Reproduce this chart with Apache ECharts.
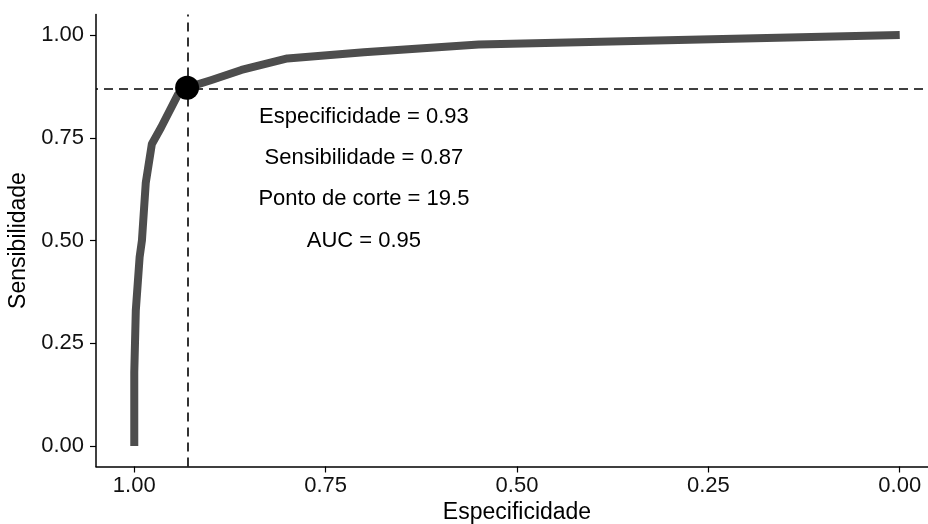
<!DOCTYPE html>
<html>
<head>
<meta charset="utf-8">
<script src="https://cdn.jsdelivr.net/npm/echarts@6/dist/echarts.min.js"></script>
<style>
  html, body { margin: 0; padding: 0; background: #fff; }
  #chart { width: 928px; height: 524px; }
</style>
</head>
<body>
<div id="chart"></div>
<script>
// curva ROC: especificidade (x, eixo invertido) e sensibilidade (y)
const especificidade = [1.000, 1.000, 0.998, 0.993, 0.990, 0.985, 0.977, 0.965, 0.943, 0.931, 0.900, 0.860, 0.800, 0.700, 0.550, 0.000];
const sensibilidade  = [0.000, 0.180, 0.330, 0.460, 0.500, 0.640, 0.735, 0.775, 0.855, 0.872, 0.890, 0.915, 0.943, 0.958, 0.977, 1.000];

// ponto de corte escolhido
const corteEsp = 0.931;
const corteSens = 0.872;

// textos anotados no gráfico
const notaX = [0.70, 0.70, 0.70, 0.70];
const notaY = [0.80, 0.70, 0.60, 0.50];
const notaTexto = ['Especificidade = 0.93', 'Sensibilidade = 0.87', 'Ponto de corte = 19.5', 'AUC = 0.95'];

const ticks = [0, 0.25, 0.5, 0.75, 1];

const fonte = '"Liberation Sans", Arial, sans-serif';
const chart = echarts.init(document.getElementById('chart'));

const curva = especificidade.map((e, i) => [e, sensibilidade[i]]);
const notas = notaX.map((x, i) => ({ value: [x, notaY[i]], texto: notaTexto[i] }));

const eixo = {
  type: 'value',
  min: -0.05,
  max: 1.05,
  splitLine: { show: false },
  axisLine: { show: true, onZero: false, lineStyle: { color: '#000', width: 1.5 } },
  axisTick: { show: true, customValues: ticks, length: 6, lineStyle: { color: '#000', width: 1.2 } },
  axisLabel: {
    customValues: ticks,
    color: '#111',
    fontSize: 22,
    fontFamily: fonte,
    formatter: v => v.toFixed(2)
  },
  nameLocation: 'middle',
  nameTextStyle: { color: '#000', fontSize: 23, fontFamily: fonte }
};

const option = {
  animation: false,
  backgroundColor: '#fff',
  grid: { left: 96, top: 14.5, width: 842, height: 452, outerBoundsMode: 'none', containLabel: false },
  xAxis: Object.assign({}, eixo, {
    inverse: true,
    name: 'Especificidade',
    nameGap: 33,
    axisLabel: Object.assign({}, eixo.axisLabel, { margin: 8 })
  }),
  yAxis: Object.assign({}, eixo, {
    name: 'Sensibilidade',
    nameGap: 61,
    axisLabel: Object.assign({}, eixo.axisLabel, { margin: 12 })
  }),
  series: [
    {
      type: 'line',
      data: curva,
      showSymbol: false,
      lineStyle: { color: '#4d4d4d', width: 8, cap: 'butt', join: 'round' },
      markLine: {
        silent: true,
        symbol: 'none',
        label: { show: false },
        lineStyle: { color: '#000', width: 1.6, type: [9, 6] },
        data: [{ xAxis: corteEsp }, { yAxis: corteSens }]
      },
      z: 2
    },
    {
      type: 'scatter',
      data: [[corteEsp, corteSens]],
      symbolSize: 24,
      itemStyle: { color: '#000', opacity: 1 },
      z: 3
    },
    {
      type: 'scatter',
      data: notas,
      symbolSize: 0,
      itemStyle: { opacity: 1 },
      label: {
        show: true,
        position: 'inside',
        color: '#000',
        fontSize: 22,
        fontFamily: fonte,
        formatter: p => p.data.texto
      },
      z: 4
    }
  ]
};

chart.setOption(option);
</script>
</body>
</html>
